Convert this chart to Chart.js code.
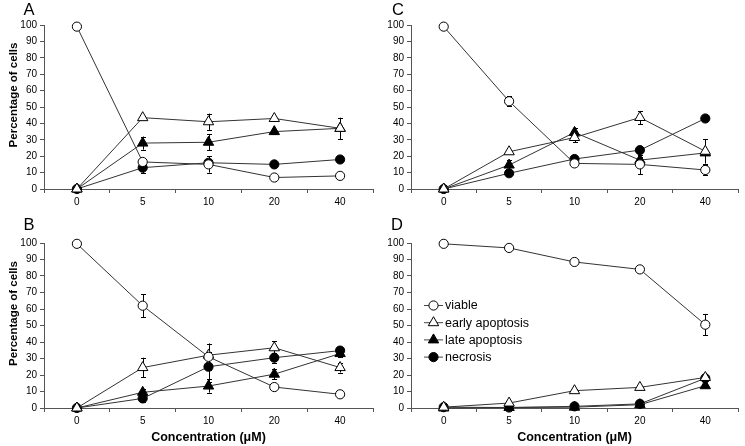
<!DOCTYPE html>
<html>
<head>
<meta charset="utf-8">
<script src="https://cdn.jsdelivr.net/npm/chart.js@4.4.1/dist/chart.umd.min.js"></script>
<style>
  body { margin: 0; background: #fff; }
  #wrap { position: relative; width: 745px; height: 446px; overflow: hidden; }
  .panel { position: absolute; }
</style>
</head>
<body>
<div id="wrap">
  <div class="panel" style="left:0;top:0"><canvas id="chartA" width="380" height="215"></canvas></div>
  <div class="panel" style="left:367px;top:0"><canvas id="chartC" width="378" height="215"></canvas></div>
  <div class="panel" style="left:0;top:215px"><canvas id="chartB" width="380" height="231"></canvas></div>
  <div class="panel" style="left:367px;top:215px"><canvas id="chartD" width="378" height="231"></canvas></div>
</div>
<script>
// data
const categories = ['0', '5', '10', '20', '40'];
const seriesNames = ['viable', 'early apoptosis', 'late apoptosis', 'necrosis'];

// panel A
const viableA = [99, 16.5, 15, 7, 8];
const earlyA = [0, 43.5, 41, 43, 37];
const lateA = [0, 28, 28.5, 35, 37];
const necrosisA = [0, 13, 16, 15, 18];
const viableErrA = [0.5, 1.5, 5, 1, 1];
const earlyErrA = [0, 1, 5, 1, 6.5];
const lateErrA = [0, 4, 5, 1.5, 1];
const necrosisErrA = [0, 3.5, 2, 1, 1];

// panel B
const viableB = [99.5, 62, 31, 12.7, 8.3];
const earlyB = [0, 24.5, 32, 36.5, 24.5];
const lateB = [0, 9.5, 13.3, 20.5, 33];
const necrosisB = [0, 5.8, 25, 30.5, 34.8];
const viableErrB = [0, 7, 8, 1, 1];
const earlyErrB = [0, 6, 7, 4, 3];
const lateErrB = [0, 2, 4, 3, 2];
const necrosisErrB = [0, 2, 9, 3, 1];

// panel C
const viableC = [99, 53.5, 15.6, 15, 11.6];
const earlyC = [0, 22.7, 31.4, 43.6, 23];
const lateC = [0, 14.6, 34.5, 17.6, 22];
const necrosisC = [0, 9.6, 18.3, 23.7, 43];
const viableErrC = [0, 3, 1, 6, 3];
const earlyErrC = [0, 1, 3, 4, 7.5];
const lateErrC = [0, 3, 3, 2, 1];
const necrosisErrC = [0, 1, 1.5, 1, 1];

// panel D
const viableD = [99.5, 97, 88.5, 84, 50.5];
const earlyD = [0.5, 3, 10.5, 12.5, 18.5];
const lateD = [0, 0.3, 0.5, 2, 13.5];
const necrosisD = [0.5, 0.3, 1, 2.5, 18];
const viableErrD = [0, 0.5, 0.5, 1, 6.5];
const earlyErrD = [0, 0.5, 1, 1, 1];
const lateErrD = [0, 0, 0, 0.5, 1];
const necrosisErrD = [0, 0, 0, 0.5, 1];

const FONT = "'Liberation Sans', Arial, Helvetica, sans-serif";
const markerStyles = [
  { pointStyle: 'circle', fill: '#fff', radius: 4.6 },
  { pointStyle: 'triangle', fill: '#fff', radius: 6 },
  { pointStyle: 'triangle', fill: '#000', radius: 6 },
  { pointStyle: 'circle', fill: '#000', radius: 4.6 }
];

// teken een marker (voor de legenda)
function drawMarker(ctx, style, x, y) {
  ctx.beginPath();
  if (style.pointStyle === 'circle') {
    ctx.arc(x, y, style.radius, 0, Math.PI * 2);
  } else {
    const r = style.radius;
    for (let k = 0; k < 3; k++) {
      const a = k * 2 * Math.PI / 3;
      const px = x + Math.sin(a) * r, py = y - Math.cos(a) * r;
      if (k === 0) ctx.moveTo(px, py); else ctx.lineTo(px, py);
    }
    ctx.closePath();
  }
  ctx.fillStyle = style.fill;
  ctx.fill();
  ctx.strokeStyle = '#000';
  ctx.lineWidth = 1;
  ctx.stroke();
}

// foutbalken onder de markers
const errorBars = {
  id: 'errorBars',
  beforeDatasetsDraw(chart) {
    const { ctx } = chart;
    const yScale = chart.scales.y;
    ctx.save();
    ctx.strokeStyle = '#000';
    ctx.lineWidth = 1;
    chart.data.datasets.forEach((ds, i) => {
      const meta = chart.getDatasetMeta(i);
      meta.data.forEach((pt, j) => {
        const e = ds.errors[j];
        if (!e) return;
        const yTop = yScale.getPixelForValue(ds.data[j] + e);
        const yBot = yScale.getPixelForValue(Math.max(0, ds.data[j] - e));
        const x = Math.round(pt.x) + 0.5;
        ctx.beginPath();
        ctx.moveTo(x, yTop); ctx.lineTo(x, yBot);
        ctx.moveTo(x - 2.5, Math.round(yTop) + 0.5); ctx.lineTo(x + 2.5, Math.round(yTop) + 0.5);
        ctx.moveTo(x - 2.5, Math.round(yBot) + 0.5); ctx.lineTo(x + 2.5, Math.round(yBot) + 0.5);
        ctx.stroke();
      });
    });
    ctx.restore();
  }
};

// paneelletter, y-titel en legenda
const extras = {
  id: 'extras',
  afterDraw(chart, args, opts) {
    const { ctx, chartArea } = chart;
    ctx.save();
    ctx.fillStyle = '#000';
    ctx.font = '16.5px ' + FONT;
    ctx.textAlign = 'center';
    ctx.textBaseline = 'alphabetic';
    ctx.fillText(opts.letter, opts.letterX, opts.letterY);

    if (opts.yTitle) {
      ctx.save();
      ctx.translate(14, (chartArea.top + chartArea.bottom) / 2 - 12);
      ctx.rotate(-Math.PI / 2);
      ctx.font = 'bold 11.5px ' + FONT;
      ctx.textBaseline = 'middle';
      ctx.fillText('Percentage of cells', 0, 0);
      ctx.restore();
    }

    if (opts.legend) {
      const x0 = chartArea.left + 13, y0 = 90;
      ctx.font = '12.5px ' + FONT;
      ctx.textAlign = 'left';
      ctx.textBaseline = 'middle';
      seriesNames.forEach((name, i) => {
        const y = y0 + i * 17.2;
        ctx.strokeStyle = '#444';
        ctx.lineWidth = 1;
        ctx.beginPath();
        ctx.moveTo(x0, y + 0.5); ctx.lineTo(x0 + 19, y + 0.5);
        ctx.stroke();
        drawMarker(ctx, markerStyles[i], x0 + 9.5, y + 0.5);
        ctx.fillStyle = '#000';
        ctx.fillText(name, x0 + 21, y + 1);
      });
    }
    ctx.restore();
  }
};

function makePanel(id, values, errors, cfg) {
  const datasets = values.map((v, i) => ({
    label: seriesNames[i],
    data: v,
    errors: errors[i],
    borderColor: '#333',
    borderWidth: 1,
    pointStyle: markerStyles[i].pointStyle,
    pointRadius: markerStyles[i].radius,
    pointBackgroundColor: markerStyles[i].fill,
    pointBorderColor: '#000',
    pointBorderWidth: 1,
    tension: 0,
    clip: false
  }));

  new Chart(document.getElementById(id), {
    type: 'line',
    data: { labels: categories, datasets: datasets },
    plugins: [errorBars, extras],
    options: {
      responsive: false,
      animation: false,
      layout: { padding: { top: cfg.top, right: cfg.right, left: 0, bottom: 0 } },
      scales: {
        x: {
          offset: true,
          grid: { display: true, drawOnChartArea: false, offset: true, tickLength: 4, color: '#555' },
          border: { display: true, color: '#555' },
          ticks: { font: { size: 10, family: FONT }, color: '#000', padding: 3, maxRotation: 0 },
          title: {
            display: cfg.xTitle,
            text: 'Concentration (\u03bcM)',
            font: { size: 12.5, weight: 'bold', family: FONT },
            color: '#000',
            padding: { top: 0, bottom: 1 }
          },
          afterFit: s => { s.height = cfg.xHeight; }
        },
        y: {
          min: 0,
          max: 100,
          grid: { display: true, drawOnChartArea: false, tickLength: 4, color: '#555' },
          border: { display: true, color: '#555' },
          ticks: { stepSize: 10, font: { size: 10, family: FONT }, color: '#000', padding: 3 },
          afterFit: s => { s.width = 44; }
        }
      },
      plugins: {
        legend: { display: false },
        tooltip: { enabled: false },
        extras: cfg.extras
      }
    }
  });
}

makePanel('chartA',
  [viableA, earlyA, lateA, necrosisA],
  [viableErrA, earlyErrA, lateErrA, necrosisErrA],
  { top: 25, right: 2, xHeight: 26, xTitle: false,
    extras: { letter: 'A', letterX: 29, letterY: 15, yTitle: true, legend: false } });

makePanel('chartC',
  [viableC, earlyC, lateC, necrosisC],
  [viableErrC, earlyErrC, lateErrC, necrosisErrC],
  { top: 25, right: 0, xHeight: 26, xTitle: false,
    extras: { letter: 'C', letterX: 31, letterY: 15, yTitle: false, legend: false } });

makePanel('chartB',
  [viableB, earlyB, lateB, necrosisB],
  [viableErrB, earlyErrB, lateErrB, necrosisErrB],
  { top: 28, right: 2, xHeight: 38, xTitle: true,
    extras: { letter: 'B', letterX: 29, letterY: 14.5, yTitle: true, legend: false } });

makePanel('chartD',
  [viableD, earlyD, lateD, necrosisD],
  [viableErrD, earlyErrD, lateErrD, necrosisErrD],
  { top: 28, right: 0, xHeight: 38, xTitle: true,
    extras: { letter: 'D', letterX: 30, letterY: 14.5, yTitle: false, legend: true } });
</script>
</body>
</html>
